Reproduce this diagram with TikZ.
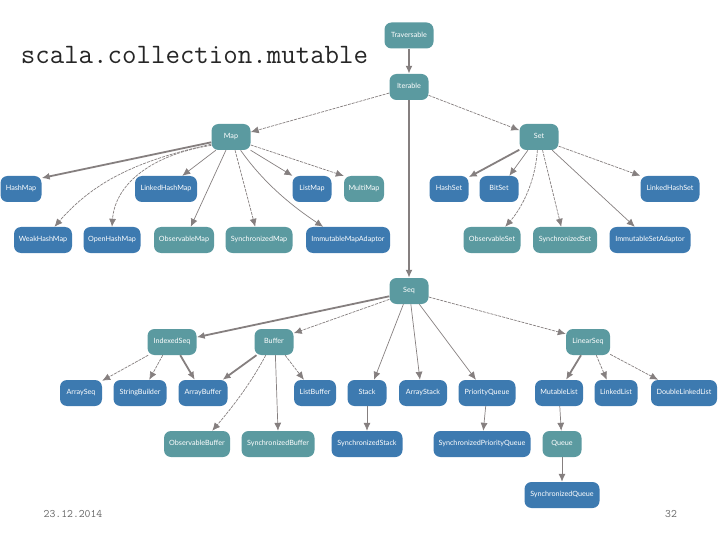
\documentclass[tikz,border=0pt]{standalone}
\usepackage{fontspec}
\setmainfont{Lato}
\usetikzlibrary{arrows.meta}
\definecolor{traitcolor}{HTML}{5B9AA0}
\definecolor{classcolor}{HTML}{3D7AB0}
\definecolor{edgecolor}{HTML}{857F7F}
\tikzset{
	box/.style={rounded corners=7pt, minimum height=26pt, inner sep=0pt, text=white, text height=5.2pt, text depth=1.5pt, font=\fontsize{7.2}{8}\selectfont},
	trait/.style={box, fill=traitcolor},
	class/.style={box, fill=classcolor},
	heavy/.style={draw=edgecolor, line width=1.8pt, -{Latex[length=8pt, width=7pt]}},
	plain/.style={draw=edgecolor, line width=0.7pt, -{Latex[length=8pt, width=7pt]}},
	broken/.style={plain, dash pattern=on 3pt off 1pt},
	footer/.style={font=\ttfamily\fontsize{11.4}{13}\selectfont, text=black!60}
}
\begin{document}
\begin{tikzpicture}[x=1pt, y=-1pt]
	\useasboundingbox (0,0) rectangle (720,540);
	\node[font=\ttfamily\fontsize{28.1}{30}\selectfont, text=black!85] (title) at (194.5,55) {scala.collection.mutable};
	\node[footer] (date) at (73,514) {23.12.2014};
	\node[footer] (page) at (671,514) {32};

	\node[trait, minimum width=49pt] (traversable) at (409,35.5) {Traversable};
	\node[trait, minimum width=39pt] (iterable) at (409,87) {Iterable};
	\node[trait, minimum width=39pt] (map) at (231,137) {Map};
	\node[trait, minimum width=39pt] (set) at (539,137) {Set};
	\node[trait, minimum width=39pt] (seq) at (409,291) {Seq};

	\node[class, minimum width=41pt] (hashmap) at (21,189) {HashMap};
	\node[class, minimum width=62pt] (linkedhashmap) at (166,189) {LinkedHashMap};
	\node[class, minimum width=39pt] (listmap) at (312,189) {ListMap};
	\node[trait, minimum width=40pt] (multimap) at (364,189) {MultiMap};
	\node[class, minimum width=39pt] (hashset) at (449,189) {HashSet};
	\node[class, minimum width=39pt] (bitset) at (499,189) {BitSet};
	\node[class, minimum width=59pt] (linkedhashset) at (670,189) {LinkedHashSet};

	\node[class, minimum width=58pt] (weakhashmap) at (43,240) {WeakHashMap};
	\node[class, minimum width=57pt] (openhashmap) at (112,240) {OpenHashMap};
	\node[trait, minimum width=60pt] (observablemap) at (184,240) {ObservableMap};
	\node[trait, minimum width=67pt] (synchronizedmap) at (259,240) {SynchronizedMap};
	\node[class, minimum width=84pt] (immutablemapadaptor) at (348,240) {ImmutableMapAdaptor};
	\node[trait, minimum width=57pt] (observableset) at (492,240) {ObservableSet};
	\node[trait, minimum width=64pt] (synchronizedset) at (565,240) {SynchronizedSet};
	\node[class, minimum width=81pt] (immutablesetadaptor) at (650,240) {ImmutableSetAdaptor};

	\node[trait, minimum width=49pt] (indexedseq) at (172,342) {IndexedSeq};
	\node[trait, minimum width=39pt] (buffer) at (274,342) {Buffer};
	\node[trait, minimum width=44pt] (linearseq) at (588,342) {LinearSeq};

	\node[class, minimum width=42pt] (arrayseq) at (81,393) {ArraySeq};
	\node[class, minimum width=53pt] (stringbuilder) at (140,393) {StringBuilder};
	\node[class, minimum width=49pt] (arraybuffer) at (203,393) {ArrayBuffer};
	\node[class, minimum width=42pt] (listbuffer) at (315,393) {ListBuffer};
	\node[class, minimum width=39pt] (stack) at (367,393) {Stack};
	\node[class, minimum width=48pt] (arraystack) at (423,393) {ArrayStack};
	\node[class, minimum width=57pt] (priorityqueue) at (487,393) {PriorityQueue};
	\node[class, minimum width=48pt] (mutablelist) at (559,393) {MutableList};
	\node[class, minimum width=43pt] (linkedlist) at (616,393) {LinkedList};
	\node[class, minimum width=66pt] (doublelinkedlist) at (684,393) {DoubleLinkedList};

	\node[trait, minimum width=66pt] (observablebuffer) at (197,444) {ObservableBuffer};
	\node[trait, minimum width=73pt] (synchronizedbuffer) at (278,444) {SynchronizedBuffer};
	\node[class, minimum width=71pt] (synchronizedstack) at (367,444) {SynchronizedStack};
	\node[class, minimum width=97pt] (synchronizedpriorityqueue) at (482,444) {SynchronizedPriorityQueue};
	\node[trait, minimum width=39pt] (queue) at (562,444) {Queue};
	\node[class, minimum width=75pt] (synchronizedqueue) at (562,495) {SynchronizedQueue};

	\draw[heavy] (traversable) -- (iterable);
	\draw[heavy] (iterable) -- (seq);
	\draw[broken] (iterable.197) -- (map.14);
	\draw[broken] (iterable.337) -- (set.161);

	\draw[heavy] (map.195) -- (hashmap.28);
	\draw[plain] (map.221) -- (linkedhashmap.39);
	\draw[plain] (map.326) -- (listmap.146);
	\draw[broken] (map.338) -- (multimap.147);
	\draw[broken] (map.200) .. controls (140,160) and (95,180) .. (weakhashmap.49);
	\draw[broken] (map.203) .. controls (150,155) and (115,185) .. (openhashmap.north);
	\draw[plain] (map.249) -- (observablemap.63);
	\draw[broken] (map.287) -- (synchronizedmap.106);
	\draw[plain] (map.306) .. controls (265,185) and (295,208) .. (immutablemapadaptor.152);

	\draw[heavy] (set.213) -- (hashset.31);
	\draw[plain] (set.230) -- (bitset.52);
	\draw[broken] (set.335) -- (linkedhashset.156);
	\draw[broken] (set.263) .. controls (535,185) and (520,210) .. (observableset.45);
	\draw[broken] (set.285) -- (synchronizedset.106);
	\draw[plain] (set.315) -- (immutablesetadaptor.139);

	\draw[heavy] (seq.195) -- (indexedseq.11);
	\draw[broken] (seq.203) -- (buffer.24);
	\draw[plain] (seq.247) -- (stack.62);
	\draw[plain] (seq.278) -- (arraystack.103);
	\draw[plain] (seq.308) -- (priorityqueue.130);
	\draw[broken] (seq.343) -- (linearseq.160);

	\draw[broken] (indexedseq.209) -- (arrayseq.30);
	\draw[broken] (indexedseq.235) -- (stringbuilder.55);
	\draw[heavy] (indexedseq.302) -- (arraybuffer.122);

	\draw[heavy] (buffer.217) -- (arraybuffer.34);
	\draw[broken] (buffer.238) .. controls (250,385) and (230,410) .. (observablebuffer.41);
	\draw[plain] (buffer.276) -- (synchronizedbuffer.north);
	\draw[broken] (buffer.310) -- (listbuffer.130);

	\draw[heavy] (linearseq.242) -- (mutablelist.62);
	\draw[broken] (linearseq.302) -- (linkedlist.125);
	\draw[broken] (linearseq.331) -- (doublelinkedlist.153);

	\draw[plain] (stack) -- (synchronizedstack);
	\draw[plain] (priorityqueue) -- (synchronizedpriorityqueue);
	\draw[plain] (mutablelist) -- (queue);
	\draw[plain, line width=1pt] (queue) -- (synchronizedqueue);
\end{tikzpicture}
\end{document}
